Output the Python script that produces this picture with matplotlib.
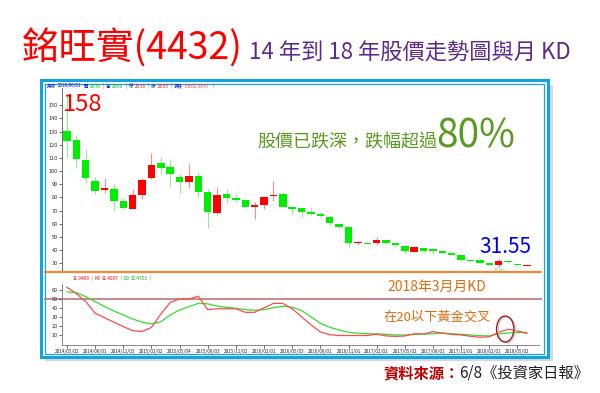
import numpy as np
import matplotlib
matplotlib.use('Agg')
import matplotlib.pyplot as plt
from matplotlib.patches import Rectangle, Ellipse
from matplotlib.lines import Line2D

plt.rcParams['font.family'] = ['Noto Sans CJK TC', 'DejaVu Sans']

# 銘旺實 月K線 2014/05 ~ 2018/06
opens = [130.5, 123.7, 108.5, 92.5, 85.4, 86.5, 77.3, 71.3, 81.6, 94.8,
         106.2, 103.2, 95.3, 92.0, 96.1, 84.4, 68.5, 82.7, 79.9, 77.8,
         73.0, 74.3, 81.1, 82.7, 73.0, 72.0, 68.8, 67.7, 65.4, 59.9,
         57.3, 45.4, 45.7, 45.7, 47.5, 45.4, 43.1, 38.9, 41.4, 40.6,
         39.6, 38.1, 36.1, 32.7, 32.5, 30.3, 29.0, 31.9, 29.7, 28.30]
highs = [158.0, 127.5, 116.6, 95.3, 94.5, 90.0, 79.4, 86.5, 94.5, 113.5,
         111.0, 109.0, 97.6, 105.4, 99.4, 86.2, 87.7, 86.2, 82.7, 78.9,
         76.3, 81.1, 92.8, 83.9, 73.5, 72.5, 72.8, 69.2, 65.8, 60.2,
         57.5, 47.2, 46.0, 50.0, 47.8, 45.6, 43.4, 43.1, 41.8, 40.9,
         39.9, 38.4, 36.4, 33.0, 32.8, 30.6, 34.3, 32.2, 30.0, 28.80]
lows = [111.0, 102.0, 90.8, 82.7, 83.2, 69.7, 71.0, 71.0, 78.6, 93.8,
        97.6, 88.7, 83.2, 87.0, 80.1, 56.8, 67.0, 75.6, 76.8, 71.8,
        63.7, 71.3, 77.6, 72.5, 66.7, 65.4, 67.0, 65.5, 59.1, 55.8,
        41.9, 43.7, 44.5, 43.7, 44.8, 42.9, 37.0, 38.5, 39.0, 37.0,
        37.8, 36.2, 32.0, 31.7, 30.0, 28.4, 27.0, 30.5, 28.2, 28.30]
closes = [123.0, 109.0, 94.5, 85.0, 87.2, 77.3, 71.8, 81.9, 93.3, 105.0,
          102.7, 97.8, 92.0, 96.1, 84.4, 69.0, 81.9, 79.4, 77.8, 73.0,
          74.0, 80.1, 81.9, 73.0, 71.3, 69.0, 67.7, 66.2, 60.4, 57.3,
          45.7, 46.2, 44.9, 47.5, 45.2, 44.2, 39.1, 42.4, 39.5, 39.6,
          38.1, 36.6, 32.5, 32.0, 30.5, 29.0, 31.55, 30.8, 28.5, 28.55]

# 月KD
k_vals = [63, 56, 47, 34, 29, 24, 19, 14.5, 13.5, 18,
          33, 46, 50, 50, 53, 38, 39, 39, 39, 35,
          35, 40, 45, 45, 39, 30, 21, 13, 10, 9,
          9, 9, 9, 10.5, 8.6, 8, 8.5, 11, 10.8, 13.4,
          11.5, 10.4, 9.6, 8.2, 7.1, 7.6, 12.6, 16, 14.1, 11.4]
d_vals = [58, 57, 52.5, 47, 41.5, 36.5, 32, 27.5, 24, 22,
          24.5, 32, 37.6, 41.3, 45, 44.5, 42, 40.6, 39.5, 38,
          37.3, 38, 40.2, 41.8, 40.6, 37, 30, 22.7, 18.3, 15.2,
          12.6, 11.5, 11, 10.8, 10.4, 9.6, 9.6, 10, 10.5, 11,
          11.9, 11, 10.4, 9.6, 8.9, 8.6, 10.8, 12, 12.3, 12.5]

date_labels = ['2014/05/02', '2014/08/01', '2014/11/03', '2015/02/02', '2015/05/04',
               '2015/08/03', '2015/11/02', '2016/02/01', '2016/05/03', '2016/08/01',
               '2016/11/01', '2017/02/02', '2017/05/02', '2017/08/01', '2017/11/01',
               '2018/02/01', '2018/05/02']

W, H = 600, 393


def fx(px):
    return px / W


def fy(py):
    return 1 - py / H


fig = plt.figure(figsize=(6, 3.93), dpi=100)
renderer = fig.canvas.get_renderer()


def text_row(items, x0, py, size, gap=1.2):
    # 一段一段接著排，避免小字互相重疊
    xpos = x0
    for t, col in items:
        txt = fig.text(fx(xpos), fy(py), t, ha='left', va='center', color=col, fontsize=size)
        bb = txt.get_window_extent(renderer)
        xpos = bb.x1 + gap


# 外框 (藍框 + 陰影)
fig.add_artist(Rectangle((fx(45), fy(361)), (553 - 45) / W, (361 - 85) / H, transform=fig.transFigure,
                         facecolor='#d8d8d8', edgecolor='none', zorder=-3))
fig.add_artist(Rectangle((fx(41), fy(357)), (548 - 41) / W, (357 - 80) / H, transform=fig.transFigure,
                         facecolor='white', edgecolor='#12a3e2', lw=2.2, zorder=-2))
fig.add_artist(Rectangle((fx(44.5), fy(353.5)), (544 - 44.5) / W, (353.5 - 83.5) / H,
                         transform=fig.transFigure, facecolor='none', edgecolor='#12a3e2', lw=0.9, zorder=-1))

x = np.arange(len(opens))
o = np.array(opens)
c = np.array(closes)
up = c >= o

# K線圖
ax = fig.add_axes([fx(62), fy(271), (539 - 62) / W, (271 - 88) / H])
ax.set_facecolor('none')
wick_cols = np.where(up, '#ff8c8c', '#8cf08c')
body_cols = np.where(up, '#ff0000', '#00ee00')
ax.vlines(x, lows, highs, colors=wick_cols, lw=0.8, zorder=1)
ax.bar(x, np.maximum(np.abs(c - o), 0.5), 0.8, bottom=np.minimum(o, c),
       color=body_cols, linewidth=0, zorder=2)
ax.set_xlim(-0.53, 50.3)
ax.set_ylim(24.2, 163.1)
ax.set_yticks(np.arange(30, 151, 10))
ax.set_xticks([])
for s in ['top', 'right', 'bottom']:
    ax.spines[s].set_visible(False)
ax.spines['left'].set_color('#555555')
ax.spines['left'].set_linewidth(0.6)
ax.tick_params(axis='y', labelsize=4, length=2, width=0.5, pad=1, colors='#333333')

imax = int(np.argmax(highs))
ax.annotate(f'{highs[imax]:.0f}', xy=(imax, highs[imax]), xytext=(-2.9, -11.5), textcoords='offset points',
            ha='left', va='baseline', color='#ff0000', fontsize=17)
imin = int(np.argmin(lows))
ax.annotate(f'{closes[imin]:.2f}', xy=(imin, closes[imin]), xytext=(4.7, 6), textcoords='offset points',
            ha='center', va='baseline', color='#0000ee', fontsize=15)
ax.annotate(f'{lows[imin]:.2f}', xy=(imin, lows[imin]), xytext=(0, -0.5), textcoords='offset points',
            ha='center', va='top', color='#55cc55', fontsize=3)

# 綠色說明文字
fig.text(fx(437), fy(147), '股價已跌深，跌幅超過', ha='right', va='baseline', color='#5a9a22', fontsize=13)
fig.text(fx(436), fy(147), '80%', ha='left', va='baseline', color='#5a9a22', fontsize=28)

# KD
ax2 = fig.add_axes([fx(62), fy(345), (539 - 62) / W, (345 - 284) / H])
ax2.set_facecolor('none')
ax2.plot(x, d_vals, color='#33dd33', lw=0.9, zorder=2)
ax2.plot(x, k_vals, color='#ff4a4a', lw=0.9, zorder=3)
ax2.axhline(50, xmin=(45 - 62) / 477, xmax=(541 - 62) / 477, color='#c48a8a', lw=1.4,
            clip_on=False, zorder=1)
ax2.set_xlim(-0.53, 50.3)
ax2.set_ylim(-1.6, 66.7)
ax2.set_yticks(np.arange(10, 61, 10))
ax2.set_xticks(x[::3])
ax2.set_xticklabels(date_labels)
for s in ['top', 'right']:
    ax2.spines[s].set_visible(False)
for s in ['left', 'bottom']:
    ax2.spines[s].set_color('#888888')
    ax2.spines[s].set_linewidth(0.7)
ax2.tick_params(axis='y', labelsize=4, length=2, width=0.5, pad=1, colors='#333333')
ax2.tick_params(axis='x', labelsize=3.4, length=2, width=0.5, pad=0.8, colors='#222244')

ax2.add_patch(Ellipse((46.85, 15.3), 1.85, 29, facecolor='none', edgecolor='#c8c8c8', lw=1.0,
                      clip_on=False, zorder=4))
ax2.add_patch(Ellipse((46.7, 16.3), 1.85, 29, facecolor='none', edgecolor='#a51f1f', lw=1.0,
                      clip_on=False, zorder=5))

# 分隔線
fig.add_artist(Line2D([fx(45), fx(541)], [fy(272), fy(272)], transform=fig.transFigure,
                      color='#f0883c', lw=1.6, zorder=3))

fig.text(fx(437), fy(287), '2018年3月月KD', ha='center', va='center', color='#e46c0a', fontsize=10)
fig.text(fx(437), fy(317), '在20以下黃金交叉', ha='center', va='center', color='#e46c0a', fontsize=9.5)

# 上方小字資訊列
header = [('月線', '#0000cc'), ('2018/06/01', '#0000cc'), ('開', '#0000cc'),
          ('28.30', '#00bb00'), ('|', '#cc0000'), ('高', '#0000cc'),
          ('28.80', '#00bb00'), ('|', '#cc0000'), ('低', '#0000cc'),
          ('28.30', '#ff0000'), ('|', '#cc0000'), ('收', '#0000cc'),
          ('28.55', '#ff0000'), ('|', '#cc0000'), ('漲跌', '#0000cc'),
          ('0.65(2.33%)', '#ff3333'), ('↑', '#ff3333')]
text_row(header, 47, 86, 3.2, gap=2.0)

kd_header = [('11.9469', '#ff0000'), ('|', '#ff0000'), ('K9', '#ff0000'),
             ('11.4007', '#ff0000'), ('|', '#00aa00'), ('D9', '#00aa00'),
             ('12.4753', '#00aa00'), ('|', '#00aa00')]
text_row(kd_header, 73, 278, 3.4, gap=1.6)

# 標題
fig.text(fx(22), fy(60), '銘旺實(4432)', ha='left', va='baseline', color='#ff0000', fontsize=27)
fig.text(fx(249), fy(60), '14 年到 18 年股價走勢圖與月 KD', ha='left', va='baseline',
         color='#5b2a90', fontsize=16)

# 資料來源
fig.text(fx(383), fy(378), '資料來源：', ha='left', va='baseline', color='#c00000', fontsize=11,
         fontweight='bold')
fig.text(fx(459), fy(378), '6/8《投資家日報》', ha='left', va='baseline', color='#222222', fontsize=11)

fig.savefig('out.png', dpi=100)
